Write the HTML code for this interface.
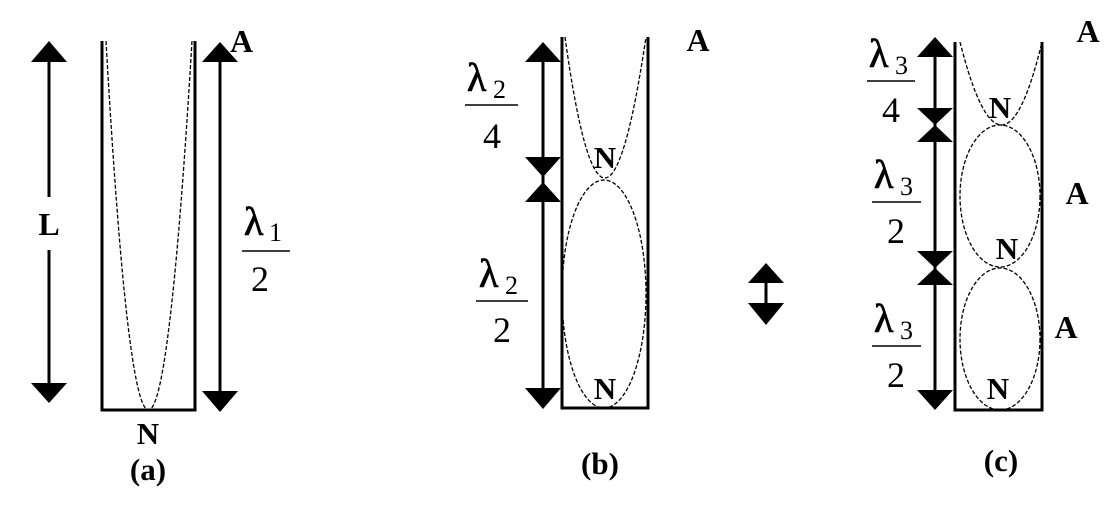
<!DOCTYPE html>
<html><head><meta charset="utf-8"><style>
html,body{margin:0;padding:0;background:#fff;}
svg{display:block;}
text{font-family:"Liberation Serif",serif;fill:#000;}
.b{font-weight:bold;}
.l{stroke:#000;stroke-width:0.8;}
</style></head><body>
<svg width="1120" height="508" viewBox="0 0 1120 508" xmlns="http://www.w3.org/2000/svg">
<g stroke="#000" fill="none">
<polyline points="102,41 102,410 195,410 195,41" stroke-width="3"/>
<path d="M106,41 Q148,779 192,41" stroke-width="1.3" stroke-dasharray="4,2"/>
<polyline points="562,37 562,408 648,408 648,37" stroke-width="3"/>
<path d="M565,37 Q604,319 646,37" stroke-width="1.3" stroke-dasharray="4,2"/>
<ellipse cx="604" cy="294" rx="42" ry="114" stroke-width="1.3" stroke-dasharray="4,2"/>
<polyline points="955,42 955,410 1042,410 1042,42" stroke-width="3"/>
<path d="M960,42 Q1002,208 1042,42" stroke-width="1.3" stroke-dasharray="4,2"/>
<ellipse cx="1000" cy="196" rx="40" ry="71" stroke-width="1.3" stroke-dasharray="4,2"/>
<ellipse cx="1000" cy="339" rx="40" ry="71" stroke-width="1.3" stroke-dasharray="4,2"/>
<line x1="49" y1="60" x2="49" y2="197" stroke-width="3"/>
<line x1="49" y1="250" x2="49" y2="385" stroke-width="3"/>
<line x1="220" y1="60" x2="220" y2="392" stroke-width="3"/>
<line x1="543" y1="60" x2="543" y2="390" stroke-width="3"/>
<line x1="935" y1="55" x2="935" y2="392" stroke-width="3"/>
<line x1="766" y1="282" x2="766" y2="305" stroke-width="3"/>
<line x1="242" y1="251" x2="290" y2="251" stroke-width="1.5"/>
<line x1="465" y1="105" x2="518" y2="105" stroke-width="1.5"/>
<line x1="476" y1="301" x2="528" y2="301" stroke-width="1.5"/>
<line x1="867" y1="81" x2="915" y2="81" stroke-width="1.5"/>
<line x1="872" y1="202" x2="921" y2="202" stroke-width="1.5"/>
<line x1="872" y1="346" x2="921" y2="346" stroke-width="1.5"/>
</g>
<g fill="#000">
<polygon points="49,41 31,62 67,62"/>
<polygon points="49,403 31,383 67,383"/>
<polygon points="220,42 202,62 238,62"/>
<polygon points="220,412 202,391 238,391"/>
<polygon points="543,42 525,62 561,62"/>
<polygon points="543,177 525,157 561,157"/>
<polygon points="543,182 525,202 561,202"/>
<polygon points="543,409 525,388 561,388"/>
<polygon points="766,263 748,283 784,283"/>
<polygon points="766,325 748,303 784,303"/>
<polygon points="935,37 917,57 953,57"/>
<polygon points="935,125 917,108 953,108"/>
<polygon points="935,125 917,142 953,142"/>
<polygon points="935,268 917,251 953,251"/>
<polygon points="935,268 917,285 953,285"/>
<polygon points="935,410 917,390 953,390"/>
</g>
<text x="49" y="235" font-size="32" class="b" text-anchor="middle">L</text>
<text x="230" y="52" font-size="32" class="b">A</text>
<text x="244" y="235" font-size="40" class="l">λ</text><text x="269" y="241" font-size="26">1</text>
<text x="260" y="291" font-size="36" text-anchor="middle">2</text>
<text x="148" y="444" font-size="31" class="b" text-anchor="middle">N</text>
<text x="148" y="480" font-size="31" class="b" text-anchor="middle">(a)</text>
<text x="698" y="51" font-size="32" class="b" text-anchor="middle">A</text>
<text x="467" y="91" font-size="40" class="l">λ</text><text x="493" y="98" font-size="26">2</text>
<text x="492" y="148" font-size="36" text-anchor="middle">4</text>
<text x="479" y="287" font-size="40" class="l">λ</text><text x="505" y="294" font-size="26">2</text>
<text x="502" y="342" font-size="36" text-anchor="middle">2</text>
<text x="605" y="168" font-size="31" class="b" text-anchor="middle">N</text>
<text x="605" y="399" font-size="31" class="b" text-anchor="middle">N</text>
<text x="600" y="474" font-size="31" class="b" text-anchor="middle">(b)</text>
<text x="1088" y="42" font-size="32" class="b" text-anchor="middle">A</text>
<text x="1077" y="204" font-size="32" class="b" text-anchor="middle">A</text>
<text x="1066" y="338" font-size="32" class="b" text-anchor="middle">A</text>
<text x="869" y="67" font-size="40" class="l">λ</text><text x="895" y="74" font-size="26">3</text>
<text x="891" y="122" font-size="36" text-anchor="middle">4</text>
<text x="874" y="188" font-size="40" class="l">λ</text><text x="900" y="195" font-size="26">3</text>
<text x="896" y="243" font-size="36" text-anchor="middle">2</text>
<text x="874" y="332" font-size="40" class="l">λ</text><text x="900" y="339" font-size="26">3</text>
<text x="896" y="387" font-size="36" text-anchor="middle">2</text>
<text x="1000" y="118" font-size="31" class="b" text-anchor="middle">N</text>
<text x="1007" y="259" font-size="31" class="b" text-anchor="middle">N</text>
<text x="998" y="399" font-size="31" class="b" text-anchor="middle">N</text>
<text x="1001" y="471" font-size="31" class="b" text-anchor="middle">(c)</text>
</svg>
</body></html>
